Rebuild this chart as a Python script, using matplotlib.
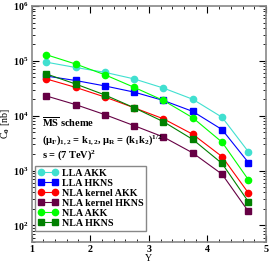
import numpy as np
import matplotlib
matplotlib.use("Agg")
import matplotlib.pyplot as plt
from matplotlib.ticker import MultipleLocator, LogLocator, NullFormatter

plt.rcParams['font.family'] = ['Liberation Serif', 'DejaVu Serif']
plt.rcParams['font.weight'] = 'bold'
plt.rcParams['mathtext.fontset'] = 'custom'
plt.rcParams['mathtext.rm'] = 'Liberation Serif:bold'
plt.rcParams['mathtext.it'] = 'Liberation Serif:bold'
plt.rcParams['mathtext.bf'] = 'Liberation Serif:bold'

# rapidity bins
Y = [1.25, 1.75, 2.25, 2.75, 3.25, 3.75, 4.25, 4.7]

# C0 [nb]
lla_akk = [9.5e4, 7.6e4, 6.2e4, 4.7e4, 3.2e4, 2.0e4, 9.4e3, 2.2e3]
lla_hkns = [5.3e4, 4.4e4, 3.5e4, 2.7e4, 1.9e4, 1.2e4, 5.6e3, 1.4e3]
nla_kernel_akk = [4.7e4, 3.3e4, 2.2e4, 1.4e4, 8.8e3, 4.6e3, 1.8e3, 390]
nla_kernel_hkns = [2.3e4, 1.6e4, 1.05e4, 6.6e3, 4.1e3, 2.1e3, 860, 180]
nla_akk = [1.3e5, 8.8e4, 5.6e4, 3.3e4, 1.9e4, 9.2e3, 3.3e3, 680]
nla_hkns = [5.8e4, 3.8e4, 2.4e4, 1.4e4, 7.8e3, 3.7e3, 1.35e3, 270]

series = [
    ("LLA AKK", lla_akk, "#40E0D0", "o"),
    ("LLA HKNS", lla_hkns, "#0000FF", "s"),
    ("NLA kernel AKK", nla_kernel_akk, "#FF0000", "o"),
    ("NLA kernel HKNS", nla_kernel_hkns, "#660044", "s"),
    ("NLA AKK", nla_akk, "#00FF00", "o"),
    ("NLA HKNS", nla_hkns, "#008000", "s"),
]

fig = plt.figure(figsize=(2.72, 2.65), dpi=100)
ax = fig.add_axes([0.116, 0.087, 0.862, 0.89])

for label, vals, col, mk in series:
    ax.plot(Y, vals, color=col, marker=mk, markersize=4.5, lw=0.8, label=label)

ax.set_yscale('log')
ax.set_xlim(1, 5)
ax.set_ylim(50, 1e6)
ax.xaxis.set_major_locator(MultipleLocator(1))
ax.xaxis.set_minor_locator(MultipleLocator(0.2))
ax.yaxis.set_major_locator(LogLocator(base=10, numticks=10))
ax.yaxis.set_minor_locator(LogLocator(base=10, subs=np.arange(2, 10), numticks=10))
ax.yaxis.set_minor_formatter(NullFormatter())
ax.tick_params(which='both', direction='in', top=True, right=True, labelsize=7.2, pad=2)
ax.tick_params(which='major', length=5, width=0.8)
ax.tick_params(which='minor', length=2.5, width=0.6)
for sp in ax.spines.values():
    sp.set_color('#888888')
    sp.set_linewidth(1.2)

ax.set_xlabel('Y', fontsize=7.2, labelpad=0)
ax.set_ylabel('C$_0$ [nb]', fontsize=7.2, labelpad=1)

ax.text(0.045, 0.508, r'$\overline{\rm MS}$ scheme', transform=ax.transAxes,
        fontsize=7.5, va='center')
ax.text(0.045, 0.43, r'($\mu_{\rm F}$)$_{1,2}$ = k$_{1,2}$, $\mu_{\rm R}$ = (k$_1$k$_2$)$^{1/2}$',
        transform=ax.transAxes, fontsize=7.5, va='center')
ax.text(0.045, 0.37, r's = (7 TeV)$^2$', transform=ax.transAxes, fontsize=7.5, va='center')

leg = ax.legend(loc='lower left', bbox_to_anchor=(0.005, 0.04), fontsize=7.2, numpoints=2,
                handlelength=2.0, handletextpad=0.4, labelspacing=0.1, borderpad=0.3,
                borderaxespad=0.2, fancybox=False, framealpha=1)
leg.get_frame().set_edgecolor('#888888')
leg.get_frame().set_linewidth(1.0)

fig.savefig('out.png', dpi=100)
